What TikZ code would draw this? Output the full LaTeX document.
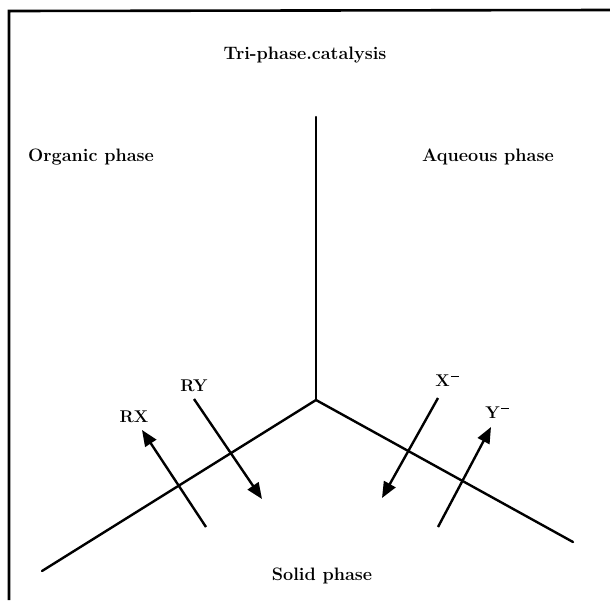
\documentclass[tikz,border=0pt]{standalone}
\usetikzlibrary{arrows.meta}
\begin{document}
\begin{tikzpicture}[x=1pt,y=-1pt,
  phaseline/.style={line width=2.4pt,line cap=round},
  framestroke/.style={line width=2.6pt},
  flowarrow/.style={line width=2.4pt,-{Triangle[length=16pt,width=13pt]}},
  title/.style={font=\fontsize{18}{21}\selectfont\bfseries,inner sep=0pt},
  species/.style={font=\fontsize{17}{20}\selectfont\bfseries,inner sep=0pt}]
\useasboundingbox (0,0) rectangle (610,600);
% frame
\coordinate (ftl) at (9,11);
\coordinate (ftr) at (610,10);
\coordinate (fbl) at (9,600);
\draw[framestroke] (fbl) -- (ftl) -- (ftr);
% phase boundaries
\coordinate (c) at (316,400);
\coordinate (top) at (316,117);
\coordinate (le) at (42,571);
\coordinate (re) at (573,542);
\draw[phaseline] (top) -- (c);
\draw[phaseline] (le) -- (c) -- (re);
% texts
\node[title] (t) at (305,55) {Tri-phase.catalysis};
\node[title] (org) at (91,157) {Organic phase};
\node[title] (aq) at (488,157) {Aqueous phase};
\node[title] (sol) at (322,576) {Solid phase};
\node[species] (rx) at (134,417) {RX};
\node[species] (ry) at (194,386) {RY};
\node[species] (xm) at (447,381) {X\hspace{0.08em}\raisebox{1.25ex}{\rule{0.45em}{0.07em}}};
\node[species] (ym) at (497,413) {Y\hspace{0.08em}\raisebox{1.25ex}{\rule{0.45em}{0.07em}}};
% arrows
\coordinate (rxs) at (206,527);
\coordinate (rxe) at (142,430);
\coordinate (rys) at (194,399);
\coordinate (rye) at (262,499);
\coordinate (xs) at (438,398);
\coordinate (xe) at (382,498);
\coordinate (ys) at (438,527);
\coordinate (ye) at (491,427);
\draw[flowarrow] (rxs) -- (rxe);
\draw[flowarrow] (rys) -- (rye);
\draw[flowarrow] (xs) -- (xe);
\draw[flowarrow] (ys) -- (ye);
\end{tikzpicture}
\end{document}
